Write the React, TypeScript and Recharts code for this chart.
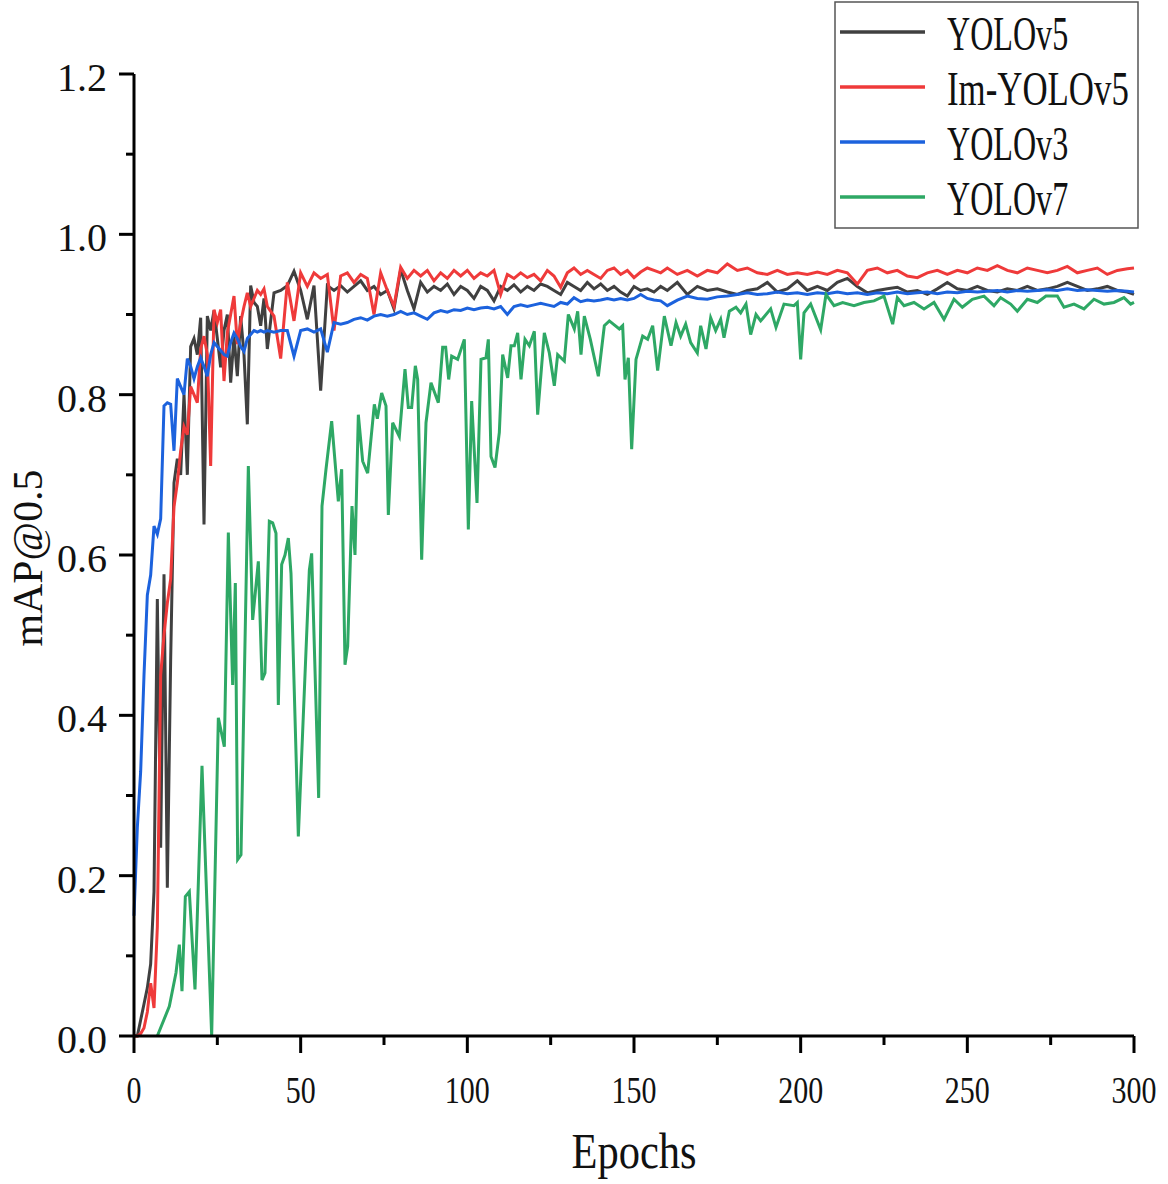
import { LineChart, Line, XAxis, YAxis, Legend, Label } from "recharts";

const FONT = '"Liberation Serif", "DejaVu Serif", serif';

// legend order as in the figure
const seriesOrder = ["YOLOv5", "Im-YOLOv5", "YOLOv3", "YOLOv7"];

// shared epoch grid for YOLOv5 / Im-YOLOv5 / YOLOv3
const baseEpochs = [
  0, 1, 2, 3, 4, 5, 6, 7, 8, 9, 10, 11, 12, 13, 14, 15, 16, 17, 18, 19, 20,
  21, 22, 23, 24, 25, 26, 27, 28, 29, 30, 31, 32, 33, 34, 35, 36, 37, 38, 39, 40,
  42, 44, 46, 48, 50, 52, 54, 56, 58, 60,
  62, 64, 66, 68, 70, 72, 74, 76, 78, 80,
  82, 84, 86, 88, 90, 92, 94, 96, 98, 100,
  102, 104, 106, 108, 110, 112, 114, 116, 118, 120,
  122, 124, 126, 128, 130, 132, 134, 136, 138, 140,
  142, 144, 146, 148, 150, 152, 154, 156, 158, 160,
  163, 166, 169, 172, 175, 178, 181, 184, 187, 190,
  193, 196, 199, 202, 205, 208, 211, 214, 217, 220,
  223, 226, 229, 232, 235, 238, 241, 244, 247, 250,
  253, 256, 259, 262, 265, 268, 271, 274, 277, 280,
  283, 286, 289, 292, 295, 298, 300,
];

const yolov5Map = [
  0, 0, 0.02, 0.04, 0.06, 0.09, 0.18, 0.545, 0.235, 0.576,
  0.185, 0.47, 0.69, 0.72, 0.7, 0.8, 0.7, 0.86, 0.87, 0.85,
  0.896, 0.638, 0.898, 0.88, 0.905, 0.87, 0.834, 0.88, 0.9, 0.815,
  0.873, 0.823, 0.898, 0.85, 0.763, 0.936, 0.915, 0.91, 0.886, 0.92,
  0.857,
  0.927, 0.93, 0.936, 0.954, 0.93, 0.894, 0.936, 0.805, 0.936, 0.93,
  0.936, 0.928, 0.935, 0.942, 0.93, 0.935, 0.925, 0.93, 0.907, 0.956,
  0.93, 0.907, 0.94, 0.928, 0.935, 0.93, 0.938, 0.925, 0.935, 0.93,
  0.92, 0.935, 0.93, 0.917, 0.935, 0.93, 0.937, 0.928, 0.935, 0.93,
  0.938, 0.935, 0.93, 0.925, 0.94, 0.935, 0.93, 0.94, 0.932, 0.938,
  0.93, 0.935, 0.928, 0.923, 0.935, 0.93, 0.932, 0.928, 0.935, 0.93,
  0.94, 0.925, 0.935, 0.93, 0.932, 0.928, 0.925, 0.93, 0.932, 0.94,
  0.928, 0.932, 0.942, 0.93, 0.935, 0.93, 0.94, 0.945, 0.935, 0.927,
  0.93, 0.932, 0.934, 0.928, 0.93, 0.925, 0.932, 0.94, 0.932, 0.93,
  0.935, 0.93, 0.928, 0.932, 0.93, 0.935, 0.93, 0.932, 0.935, 0.94,
  0.935, 0.93, 0.932, 0.935, 0.93, 0.928, 0.925,
];

const imYolov5Map = [
  0, 0, 0.003, 0.01, 0.03, 0.066, 0.035, 0.136, 0.45, 0.5,
  0.54, 0.57, 0.66, 0.69, 0.73, 0.76, 0.75, 0.81, 0.8, 0.79,
  0.857, 0.873, 0.85, 0.711, 0.906, 0.89, 0.906, 0.817, 0.877, 0.9,
  0.923, 0.863, 0.89, 0.91, 0.927, 0.91, 0.92, 0.93, 0.925, 0.932,
  0.91,
  0.898, 0.845, 0.94, 0.892, 0.952, 0.935, 0.952, 0.945, 0.95, 0.88,
  0.948, 0.952, 0.94, 0.95, 0.945, 0.9, 0.952, 0.93, 0.91, 0.959,
  0.945, 0.955, 0.948, 0.955, 0.942, 0.952, 0.945, 0.955, 0.948, 0.955,
  0.945, 0.952, 0.948, 0.955, 0.925, 0.95, 0.945, 0.952, 0.946, 0.95,
  0.942, 0.955, 0.948, 0.934, 0.952, 0.958, 0.95, 0.955, 0.95, 0.945,
  0.955, 0.958, 0.95, 0.955, 0.946, 0.953, 0.958, 0.955, 0.952, 0.958,
  0.95, 0.955, 0.948, 0.955, 0.952, 0.963, 0.955, 0.958, 0.952, 0.95,
  0.955, 0.95, 0.952, 0.95, 0.953, 0.95, 0.955, 0.952, 0.938, 0.955,
  0.958, 0.952, 0.955, 0.948, 0.946, 0.952, 0.955, 0.95, 0.955, 0.952,
  0.958, 0.955, 0.961, 0.955, 0.952, 0.958, 0.955, 0.952, 0.955, 0.96,
  0.952, 0.955, 0.958, 0.95, 0.955, 0.957, 0.958,
];

const yolov3Map = [
  0.15, 0.26, 0.33, 0.45, 0.55, 0.575, 0.636, 0.626, 0.645, 0.786,
  0.79, 0.788, 0.73, 0.82, 0.81, 0.8, 0.845, 0.835, 0.82, 0.835,
  0.846, 0.835, 0.823, 0.85, 0.865, 0.86, 0.855, 0.85, 0.848, 0.865,
  0.877, 0.87, 0.86, 0.854, 0.87, 0.875, 0.88, 0.878, 0.88, 0.878,
  0.88,
  0.878, 0.88, 0.88, 0.848, 0.88, 0.882, 0.878, 0.882, 0.853, 0.89,
  0.888, 0.89, 0.894, 0.896, 0.893, 0.898, 0.9, 0.898, 0.9, 0.904,
  0.9, 0.902, 0.898, 0.894, 0.902, 0.905, 0.903, 0.906, 0.905, 0.908,
  0.906, 0.908, 0.909, 0.907, 0.91, 0.9, 0.91, 0.912, 0.91, 0.912,
  0.914, 0.912, 0.91, 0.915, 0.913, 0.921, 0.916, 0.918, 0.917, 0.918,
  0.92, 0.918, 0.92, 0.918, 0.92, 0.925, 0.92, 0.918, 0.917, 0.911,
  0.918, 0.923, 0.92, 0.919, 0.922, 0.923, 0.925, 0.927, 0.925, 0.926,
  0.928, 0.926, 0.927, 0.925, 0.927, 0.926, 0.928, 0.926, 0.927, 0.925,
  0.927, 0.926, 0.928, 0.926, 0.927, 0.928, 0.926, 0.928, 0.927, 0.929,
  0.928, 0.929, 0.93, 0.928, 0.93, 0.929, 0.93, 0.931, 0.93, 0.932,
  0.93, 0.931, 0.93, 0.929, 0.93, 0.929, 0.928,
];

// YOLOv7 has its own (denser, irregular) epoch sampling
const yolov7Epochs = [
  7, 10.6, 12.6, 13.6, 14.4, 15.4, 16.6, 18.3, 20.4, 23.3,
  25.3, 27.1, 28.3, 29.6, 30.4, 31.1, 32.1, 34.3, 35.6, 37.3,
  38.4, 39.3, 40.6, 41.6, 42.6, 43.3, 44.3, 45.3, 46.3, 47.1,
  49.3, 52.6, 53.3, 55.4, 56.4, 57.6, 59.3, 61.3, 62.3, 63.3,
  64.1, 65.4, 66.3, 67.3, 68.6, 70.1, 72.1, 73, 74.3, 75.6,
  76.3, 77.6, 79.6, 81.3, 82.3, 83.3, 84.4, 85.1, 86.3, 87.6,
  89.1, 91.3, 92.6, 93.5, 94.4, 95.3, 97.1, 99.1, 100.3, 101.3,
  102.9, 104.1, 105.6, 106.3, 107.1, 108.3, 109.6, 110.6, 112.1, 113.1,
  114.1, 115.1, 116.1, 117.3, 118.6, 120.1, 121.1, 123.1, 124.6, 126.1,
  127.1, 129.1, 130.3, 132.1, 133.1, 134.1, 135.1, 136.9, 139.3, 141.1,
  142.6, 145.6, 146.6, 147.3, 148.3, 149.3, 150.6, 152.6, 154.1, 155.6,
  157.1, 159.1, 161.1, 162.6, 164, 165.5, 167, 169, 170, 171.6,
  173, 174.5, 176, 177, 178.6, 180.6, 182, 183.6, 185, 186.6,
  188, 191, 192.6, 195, 198, 199, 200, 201, 203, 206,
  207.6, 210, 212.6, 216, 219, 222, 225, 227.6, 229, 231,
  234, 237, 240, 243, 246, 248.5, 251.5, 255, 258, 260,
  263, 265, 268, 271, 273.6, 277, 279, 282, 285, 288,
  291, 294, 297, 299, 300,
];

const yolov7Map = [
  0, 0.037, 0.079, 0.114, 0.056, 0.174, 0.18, 0.058, 0.337, 0,
  0.397, 0.361, 0.628, 0.438, 0.565, 0.22, 0.226, 0.711, 0.519, 0.592,
  0.444, 0.453, 0.642, 0.64, 0.627, 0.413, 0.588, 0.6, 0.621, 0.577,
  0.249, 0.581, 0.602, 0.297, 0.661, 0.707, 0.767, 0.667, 0.707, 0.463,
  0.486, 0.661, 0.6, 0.775, 0.717, 0.702, 0.788, 0.77, 0.802, 0.786,
  0.65, 0.765, 0.748, 0.832, 0.784, 0.784, 0.836, 0.819, 0.594, 0.765,
  0.815, 0.79, 0.859, 0.859, 0.819, 0.848, 0.844, 0.869, 0.632, 0.792,
  0.665, 0.844, 0.846, 0.869, 0.723, 0.709, 0.753, 0.85, 0.821, 0.861,
  0.861, 0.877, 0.819, 0.869, 0.861, 0.879, 0.775, 0.877, 0.852, 0.811,
  0.85, 0.842, 0.9, 0.882, 0.904, 0.85, 0.898, 0.869, 0.823, 0.886,
  0.892, 0.882, 0.886, 0.819, 0.846, 0.732, 0.844, 0.873, 0.869, 0.886,
  0.83, 0.898, 0.861, 0.89, 0.873, 0.888, 0.865, 0.852, 0.886, 0.857,
  0.896, 0.88, 0.894, 0.871, 0.904, 0.909, 0.902, 0.913, 0.875, 0.9,
  0.892, 0.907, 0.884, 0.913, 0.911, 0.915, 0.844, 0.902, 0.913, 0.881,
  0.925, 0.911, 0.915, 0.911, 0.915, 0.917, 0.923, 0.888, 0.921, 0.911,
  0.915, 0.907, 0.915, 0.894, 0.919, 0.909, 0.919, 0.923, 0.911, 0.921,
  0.913, 0.904, 0.919, 0.915, 0.923, 0.923, 0.909, 0.913, 0.907, 0.919,
  0.913, 0.915, 0.921, 0.913, 0.915,
];

const xTicks = [0, 25, 50, 75, 100, 125, 150, 175, 200, 225, 250, 275, 300];
const yTicks = [0, 0.1, 0.2, 0.3, 0.4, 0.5, 0.6, 0.7, 0.8, 0.9, 1.0, 1.1, 1.2];

const baseRows = baseEpochs.map((epoch, i) => ({
  epoch,
  yolov5: yolov5Map[i],
  imYolov5: imYolov5Map[i],
  yolov3: yolov3Map[i],
}));

const yolov7Rows = yolov7Epochs.map((epoch, i) => ({ epoch, yolov7: yolov7Map[i] }));

function XTick({ x, y, payload }: any) {
  const major = payload.value % 50 === 0;
  const label = String(payload.value);
  return (
    <g>
      <line x1={x} y1={y} x2={x} y2={y + (major ? 17 : 9)} stroke="#000" strokeWidth={3} />
      {major && (
        <text
          x={x}
          y={y + 67}
          textAnchor="middle"
          fontFamily={FONT}
          fontSize={38}
          fill="#111"
          textLength={label.length * 15}
          lengthAdjust="spacingAndGlyphs"
        >
          {label}
        </text>
      )}
    </g>
  );
}

function YTick({ x, y, payload }: any) {
  const major = Math.round(payload.value * 10) % 2 === 0;
  return (
    <g>
      <line x1={x - (major ? 15 : 8)} y1={y} x2={x} y2={y} stroke="#000" strokeWidth={3} />
      {major && (
        <text x={x - 27} y={y + 17} textAnchor="end" fontFamily={FONT} fontSize={40} fill="#111">
          {payload.value.toFixed(1)}
        </text>
      )}
    </g>
  );
}

function XTitle({ viewBox }: any) {
  const cx = viewBox.x + viewBox.width / 2;
  return (
    <text
      x={cx}
      y={viewBox.y + 132}
      textAnchor="middle"
      fontFamily={FONT}
      fontSize={50}
      fill="#111"
      textLength={125}
      lengthAdjust="spacingAndGlyphs"
    >
      Epochs
    </text>
  );
}

function YTitle({ viewBox }: any) {
  const cx = 42;
  const cy = viewBox.y + viewBox.height / 2 + 3;
  return (
    <text
      x={cx}
      y={cy}
      transform={`rotate(-90, ${cx}, ${cy})`}
      textAnchor="middle"
      fontFamily={FONT}
      fontSize={42}
      fill="#111"
      textLength={177}
      lengthAdjust="spacingAndGlyphs"
    >
      mAP@0.5
    </text>
  );
}

function LegendBox({ payload }: any) {
  const items = [...(payload || [])].sort(
    (a: any, b: any) => seriesOrder.indexOf(a.value) - seriesOrder.indexOf(b.value)
  );
  return (
    <svg width={305} height={228} style={{ display: "block", overflow: "visible" }}>
      <rect x={1} y={1} width={303} height={226} fill="#fff" stroke="#555" strokeWidth={1.5} />
      {items.map((p: any, i: number) => {
        const ly = 31 + i * 55;
        const name = String(p.value);
        return (
          <g key={name}>
            <line x1={6} x2={91} y1={ly} y2={ly} stroke={p.color} strokeWidth={3.5} />
            <text
              x={113}
              y={ly + 18}
              fontFamily={FONT}
              fontSize={48}
              fill="#111"
              textLength={name.length * 20.2}
              lengthAdjust="spacingAndGlyphs"
            >
              {name}
            </text>
          </g>
        );
      })}
    </svg>
  );
}

export default function App() {
  return (
    <div style={{ position: "absolute", left: 0, top: 0, background: "#fff" }}>
      <LineChart
        width={1168}
        height={1184}
        data={baseRows}
        margin={{ top: 74, right: 34, left: 34, bottom: 48 }}
      >
        <XAxis
          dataKey="epoch"
          type="number"
          domain={[0, 300]}
          ticks={xTicks}
          interval={0}
          height={100}
          tickSize={0}
          tickMargin={0}
          tickLine={false}
          axisLine={{ stroke: "#000", strokeWidth: 3 }}
          tick={<XTick />}
        >
          <Label content={<XTitle />} />
        </XAxis>
        <YAxis
          type="number"
          domain={[0, 1.2]}
          ticks={yTicks}
          interval={0}
          width={100}
          tickSize={0}
          tickMargin={0}
          tickLine={false}
          axisLine={{ stroke: "#000", strokeWidth: 3 }}
          tick={<YTick />}
        >
          <Label content={<YTitle />} />
        </YAxis>
        <Legend
          layout="horizontal"
          align="center"
          verticalAlign="middle"
          content={<LegendBox />}
          wrapperStyle={{ position: "absolute", left: 834, top: 1, width: 305, height: 228 }}
        />
        <Line
          type="linear"
          dataKey="yolov5"
          name="YOLOv5"
          stroke="#404040"
          strokeWidth={3}
          dot={false}
          isAnimationActive={false}
        />
        <Line
          type="linear"
          dataKey="imYolov5"
          name="Im-YOLOv5"
          stroke="#ef3a3a"
          strokeWidth={3}
          dot={false}
          isAnimationActive={false}
        />
        <Line
          type="linear"
          dataKey="yolov3"
          name="YOLOv3"
          stroke="#1c62dd"
          strokeWidth={3}
          dot={false}
          isAnimationActive={false}
        />
        <Line
          type="linear"
          data={yolov7Rows}
          dataKey="yolov7"
          name="YOLOv7"
          stroke="#2ea865"
          strokeWidth={3}
          dot={false}
          isAnimationActive={false}
        />
      </LineChart>
    </div>
  );
}
